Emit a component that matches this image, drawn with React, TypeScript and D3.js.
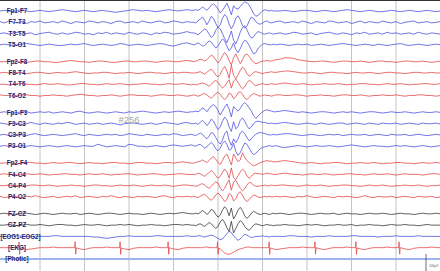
import React from 'react';
import * as d3 from 'd3';

const W = 440;
const H = 271;

// ---- labels ----
const channelNames = [
  'Fp1-F7', 'F7-T3', 'T3-T5', 'T5-O1',
  'Fp2-F8', 'F8-T4', 'T4-T6', 'T6-O2',
  'Fp1-F3', 'F3-C3', 'C3-P3', 'P3-O1',
  'Fp2-F4', 'F4-C4', 'C4-P4', 'P4-O2',
  'FZ-CZ', 'CZ-PZ', '[EOG1-EOG2]', '[EKG]', '[Photic]',
];
const channelKinds = [
  'L', 'L', 'L', 'L', 'R', 'R', 'R', 'R',
  'L', 'L', 'L', 'L', 'R', 'R', 'R', 'R',
  'Z', 'Z', 'L', 'R', 'P',
];
const gridSeconds = [1, 2, 3, 4, 5, 6, 7, 8, 9];
const watermark = '#256';
const scaleLabel = '100µV';

// ---- sample values (half-pixel units, up positive) ----
// three segments: 0.1–4.4 s (0.1 s), 4.45–6.30 s (0.05 s), 6.4–10.0 s (0.1 s)
const fp1f7 = [
  0, 1, 0, -1, 1, 2, 0, -1, 0, 1, 0,
  -1, 0, 1, 2, 1, 0, -1, 0, 1, 0, -1,
  0, 1, 0, -1, -2, -1, 0, 1, 2, 1, 0,
  1, 0, -1, 0, 1, 2, 1, 0, 1, 2, 1,
  1, 2, 1, 3, 6, 4, 1, 5, 9, 11,
  8, 3, -3, 1, 6, 12, 4, -6, 8, 4,
  3, 7, 11, 14, 13, 9, 3, -4, -8, -7,
  -3, 0, 2, 1, 0, 1, 0, 0,
  0, 1, 0, -1, 0, 1, 1, 0, -1, 0,
  1, 0, -1, 0, 1, 2, 1, 0, -1, 0,
  1, 0, -1, -1, 0, 1, 0, -1, 0, 1,
  0, -1, 0, 1, 0, -1, 0,
];
const f7t3 = [
  1, -1, 2, 0, -1, 1, -2, 1, 0, 2, -1,
  0, 1, -1, 2, 0, -2, 1, 0, -1, 2, 1,
  -1, 1, 0, -2, 1, 2, -1, 0, 1, -1, 2,
  0, -1, 1, 2, -1, 0, 2, 1, -1, 1, 0,
  0, -1, 2, 5, 8, 3, -4, 2, 9, 6,
  -2, -8, -4, 6, 12, 8, -3, -10, -4, 6,
  10, 4, -5, -9, -6, 2, 8, 6, 1, -2,
  -3, -1, 1, 2, 0, -1, 0, 1,
  2, -1, 0, 1, -1, 2, 0, -2, 1, 0,
  -1, 2, 1, -1, 0, 1, -2, 0, 2, -1,
  1, 0, -1, 2, 0, -1, 1, -2, 0, 1,
  2, -1, 0, 1, -1, 0, 1,
];
const t3t5 = [
  0, 1, -1, 1, 2, -1, 0, 1, -2, 0, 1,
  2, 0, -1, 1, -1, 0, 2, 1, -1, 0, -2,
  1, 0, 2, -1, 1, 0, -1, 2, 0, -1, 1,
  0, -2, 1, 0, 2, 1, -1, 0, 1, 3, 1,
  1, 0, -2, 1, 4, 7, 5, -1, -6, -3,
  5, 10, 7, 0, -8, -14, -6, 4, -10, -16,
  -8, 2, 9, 12, 6, -2, -7, -5, 0, 3,
  2, 0, -1, 0, 1, 0, -1, 0,
  1, -1, 0, 2, 1, -1, 0, 1, -2, 0,
  1, 2, 0, -1, 1, 0, -2, 1, 0, 2,
  -1, 0, 1, -1, 2, 0, 1, -1, 0, 1,
  -1, 2, 0, -1, 1, 0, -1,
];
const t5o1 = [
  0, 1, 0, -1, 0, 1, 2, 1, 0, -1, 0,
  1, 0, -1, -1, 0, 1, 0, 1, 2, 0, -1,
  0, 1, 0, -1, 0, 2, 1, -1, 0, 1, 0,
  -1, 0, 1, 2, 1, -1, -2, 0, 2, 3, 1,
  0, 1, 3, 1, -2, -1, 3, 6, 4, -1,
  -5, -2, 4, 9, 6, -2, -9, -5, 3, -7,
  -12, -6, 2, 7, 5, -1, -8, -14, -12, -6,
  -2, 1, 2, 1, 0, 0, 1, 0,
  1, 0, -1, 0, 1, 0, 1, -1, 0, 1,
  0, -1, 0, 1, 2, 1, 0, -1, 0, 1,
  0, -1, 1, 0, -1, 0, 1, 2, 0, -1,
  0, 1, 0, -1, 0, 1, 0,
];
const fp2f8 = [
  0, 0, 1, 1, 0, -1, -1, 0, 1, 1, 0,
  0, -1, -1, 0, 1, 2, 1, 0, 0, -1, 0,
  1, 1, 0, -1, -1, 0, 1, 1, 0, 0, 1,
  1, 0, -1, 0, 1, 1, 0, 0, 1, 2, 1,
  0, 1, 2, 4, 3, 1, 3, 7, 10, 8,
  3, -2, 2, 9, 14, 10, 2, -5, 6, 12,
  4, -3, 3, 10, 12, 8, 3, -1, -3, -2,
  0, 1, 1, 2, 1, 1, 2, 3,
  4, 6, 6, 5, 3, 2, 1, 0, 0, 1,
  1, 0, -1, 0, 1, 1, 0, 0, 1, 0,
  -1, 0, 1, 1, 0, 0, -1, 0, 1, 1,
  0, 0, 1, 0, -1, 0, 1,
];
const f8t4 = [
  0, 1, 0, 0, 1, 0, -1, 0, 1, 1, 0,
  -1, 0, 1, 0, 0, 1, 2, 1, 0, -1, 0,
  0, 1, 1, 0, -1, 0, 0, 1, 0, -1, 0,
  1, 1, 0, 0, -1, 0, 1, 0, 1, 1, 0,
  0, 0, 1, 2, 0, -2, 1, 4, 6, 2,
  -3, -6, -2, 5, 10, 3, -8, 12, -4, -9,
  -3, 4, 9, 6, -1, -5, -3, 1, 2, 1,
  0, -1, 0, 1, 1, 2, 1, 1,
  2, 3, 3, 2, 1, 0, 0, 1, 0, -1,
  0, 1, 1, 0, 0, -1, 0, 1, 0, 0,
  1, 0, -1, 0, 1, 1, 0, 0, -1, 0,
  1, 1, 0, 0, 1, 0, 0,
];
const t4t6 = [
  0, 0, -1, 0, 1, 1, 0, 0, -1, 0, 1,
  0, 0, 1, 0, -1, -1, 0, 1, 1, 0, 0,
  -1, 0, 1, 0, 0, 1, 0, -1, 0, 0, 1,
  1, 0, 0, -1, 0, 1, 0, 0, 1, 0, -1,
  0, -1, 0, 1, 2, 1, -1, -3, 0, 4,
  6, 3, -2, -6, -3, 2, 7, -6, 5, 8,
  3, -3, -7, -4, 2, 6, 4, 0, -2, -1,
  0, 1, 0, -1, 0, 1, 0, 0,
  1, 2, 1, 0, 0, 1, 0, -1, 0, 0,
  1, 0, 0, 1, 0, -1, 0, 0, 1, 1,
  0, 0, -1, 0, 1, 0, 0, 1, 0, -1,
  0, 0, 1, 1, 0, 0, 1,
];
const t6o2 = [
  1, 0, 0, -1, 0, 1, 1, 0, 0, -1, 0,
  0, 1, 0, 0, -1, 0, 1, 2, 1, 0, 0,
  -1, 0, 0, 1, 0, -1, 0, 1, 1, 0, 0,
  0, -1, 0, 1, 1, 0, 0, 1, 0, -1, 0,
  1, 0, -1, 0, 2, 3, 1, -2, -4, -1,
  3, 5, 2, -3, -6, -3, 4, 2, -5, -2,
  4, 6, 2, -4, -6, -3, 1, 3, 2, 0,
  -1, 0, 1, 0, 0, -1, 0, 1,
  1, 0, 0, 1, 1, 0, -1, 0, 0, 1,
  0, 0, -1, 0, 1, 1, 0, 0, 1, 0,
  -1, 0, 0, 1, 0, 0, 1, 0, -1, 0,
  0, 1, 1, 0, 0, -1, 0,
];
const fp1f3 = [
  0, 1, 0, -1, 0, 1, 1, -1, 0, 1, 0,
  1, -1, 0, 1, 0, -1, 1, 2, 0, -1, 0,
  1, 0, -1, 0, 1, 0, -1, 1, 0, 1, 2,
  1, 0, -1, 0, 1, 0, 1, 2, 1, 0, 1,
  1, 2, 1, 3, 7, 5, 1, 6, 10, 12,
  9, 3, -4, 2, 8, 13, 5, -7, 9, 5,
  2, 6, 12, 15, 12, 7, 2, -5, -9, -6,
  -2, 1, 3, 4, 3, 2, 1, 1,
  2, 3, 2, 1, 0, 1, 0, -1, 0, 1,
  1, 0, -1, 0, 1, 0, 1, 0, -1, 0,
  1, 1, 0, -1, 0, 1, 0, 0, 1, 0,
  -1, 0, 1, 0, 0, 1, 0,
];
const f3c3 = [
  1, 0, -1, 1, 0, -1, 0, 2, 0, -1, 1,
  0, -1, 1, 0, 2, 1, -1, 0, 1, -1, 0,
  1, -1, 0, 1, 0, -2, 0, 1, 1, 0, -1,
  0, 1, -1, 0, 2, 1, 0, -1, 1, 2, 0,
  0, 1, -1, 2, 5, 2, -3, 1, 7, 4,
  -3, -9, -5, 4, 10, 6, -5, -12, 3, -8,
  -4, 5, 9, 4, -3, -8, -5, 0, 3, 4,
  3, 2, 2, 1, 0, 1, 0, 0,
  1, 2, 1, 0, -1, 0, 1, 0, -1, 1,
  0, -1, 0, 1, 1, -1, 0, 1, 0, -1,
  1, 0, -1, 1, 0, 0, 1, -1, 0, 1,
  0, -1, 1, 0, 0, 1, -1,
];
const c3p3 = [
  0, 1, -1, 0, 1, 0, -1, 1, 2, 0, -1,
  0, 1, 0, -1, 0, 1, 2, 0, -1, 1, 0,
  -1, 0, 1, 0, 1, -1, 0, 2, 1, 0, -1,
  1, 0, -1, 0, 1, 0, 2, 1, -1, 0, 1,
  0, -1, 1, 3, 1, -3, -6, -2, 4, 2,
  -4, -10, -14, -8, 2, 6, -8, -16, -6, -12,
  -6, 3, 6, 2, -4, -9, -6, -2, 1, 3,
  4, 3, 2, 1, 0, 0, 1, 0,
  1, 2, 2, 1, 0, -1, 0, 1, 0, -1,
  0, 1, 0, 1, -1, 0, 1, 0, 0, 1,
  -1, 0, 1, 0, -1, 1, 0, 0, 1, -1,
  0, 1, 0, -1, 0, 1, 0,
];
const p3o1 = [
  0, 1, 0, -1, 0, 1, 0, 1, 0, -1, 0,
  1, 0, -1, 0, 1, 0, -1, 0, 1, 0, 0,
  3, 1, -1, 0, 1, 0, -1, 3, 2, 0, 0,
  -1, 0, 1, 0, -1, 1, 2, 1, 0, 1, 2,
  1, 0, 2, 3, 0, -3, -1, 3, 6, 2,
  -4, -7, -3, 4, 8, 3, -6, -4, 5, -8,
  -14, -10, -2, 5, 3, -3, -9, -13, -11, -7,
  -4, -2, -1, 0, 1, 0, 0, 1,
  -1, -2, -1, 0, 1, 0, -1, 0, 1, 0,
  0, 1, 0, -1, 0, 1, 2, 1, 0, -1,
  0, 1, 0, 0, -1, 0, 1, 0, 1, 0,
  -1, 0, 1, 0, -1, 0, 1,
];
const fp2f4 = [
  0, 0, 1, 0, -1, 0, 1, 1, 0, 0, -1,
  0, 1, 0, 0, 1, 1, 0, -1, 0, 1, 0,
  0, -1, 0, 1, 1, 0, 0, -1, 0, 1, 1,
  0, 0, -1, 0, 1, 1, 0, 1, 2, 1, 0,
  0, 1, 2, 3, 5, 3, 1, 4, 8, 10,
  6, 1, -2, 4, 11, 14, 6, -3, 14, 8,
  2, 5, 16, 9, 4, 1, -2, -4, -3, -1,
  1, 2, 3, 4, 3, 3, 2, 2,
  3, 4, 3, 2, 1, 0, 0, 1, 0, -1,
  0, 0, 1, 1, 0, -1, 0, 0, 1, 0,
  0, 1, 0, -1, 0, 0, 1, 1, 0, 0,
  -1, 0, 1, 0, 0, 1, 0,
];
const f4c4 = [
  0, 1, 0, 0, -1, 0, 1, 0, 0, 1, 0,
  -1, 0, 0, 1, 1, 0, 0, -1, 0, 1, 0,
  0, 1, 0, -1, 0, 0, 1, 1, 0, -1, 0,
  0, 1, 1, 0, -1, 0, 0, 1, 1, 0, 0,
  0, 0, 2, 1, -1, -3, 0, 3, 6, 3,
  -2, -6, -3, 3, 8, 4, -6, 10, -5, -8,
  -2, 4, 8, 5, -2, -6, -3, 1, 2, 1,
  1, 0, 1, 2, 1, 1, 0, 0,
  1, 2, 1, 0, 0, -1, 0, 1, 0, 0,
  1, 0, -1, 0, 0, 1, 1, 0, 0, -1,
  0, 1, 0, 0, 1, 0, -1, 0, 1, 0,
  0, 0, -1, 0, 1, 1, 0,
];
const c4p4 = [
  0, 0, 1, 0, 0, -1, 0, 1, 1, 0, 0,
  1, 0, -1, 0, 0, 1, 0, 0, -1, 0, 1,
  1, 0, 0, -1, 0, 1, 0, 0, 1, 0, -1,
  0, 1, 0, 0, 1, 0, -1, 0, 1, 1, 0,
  0, -1, 0, 2, 3, 1, -2, -4, -1, 3,
  6, 4, -3, -8, -4, 3, 9, -7, 6, 8,
  2, -4, -8, -5, 1, 5, 4, 1, -1, -1,
  0, 0, 1, 0, 0, 1, 0, 0,
  1, 1, 0, 0, -1, 0, 1, 0, 0, 1,
  0, -1, 0, 0, 1, 1, 0, 0, -1, 0,
  1, 0, 0, 1, 0, -1, 0, 0, 1, 0,
  0, 1, 0, -1, 0, 0, 1,
];
const p4o2 = [
  1, -1, 0, 1, 0, -1, 1, 0, 2, 0, -1,
  0, 1, -1, 0, 1, 0, 2, -1, 0, 1, 0,
  -1, 1, 0, 2, 0, -1, 1, 0, -1, 1, 0,
  1, 0, -1, 1, 2, 0, -1, 1, 0, 1, 0,
  1, 0, -1, 1, 3, 4, 1, -3, -5, -2,
  3, 6, 3, -2, -7, -4, 5, 3, -6, -3,
  5, 8, 3, -4, -7, -4, 0, 3, 2, 0,
  -1, 0, 1, 0, 1, 0, 0, 1,
  0, 1, 0, -1, 1, 0, 2, 0, -1, 0,
  1, 0, -1, 1, 0, 1, 0, -1, 0, 2,
  0, -1, 1, 0, 0, 1, -1, 0, 1, 0,
  -1, 1, 0, 0, 1, -1, 0,
];
const fzcz = [
  0, 1, 0, -1, 0, 1, 1, 0, -1, 0, 1,
  0, -1, 0, 1, 0, 0, 1, -1, 0, 1, 0,
  -1, 0, 1, 1, 0, -1, 0, 1, 0, 0, -1,
  0, 1, 0, -1, 0, 1, 0, 1, 2, 1, 0,
  0, 1, 0, 2, 5, 3, -1, 2, 7, 5,
  -1, -5, -2, 6, 11, 7, -3, 9, -8, -2,
  6, 10, 5, -3, -7, -4, 1, 4, 2, 0,
  -1, 0, 1, 0, -1, 0, 1, 0,
  1, 0, -1, 0, 1, 1, 0, -1, 0, 1,
  0, 0, 1, -1, 0, 1, 0, 0, -1, 0,
  1, 0, 0, 1, 0, -1, 0, 1, 0, 0,
  -1, 0, 1, 0, 0, 1, 0,
];
const czpz = [
  0, 0, 1, 0, -1, 0, 1, 0, 0, 1, 0,
  -1, 0, 1, 1, 0, 0, -1, 0, 1, 0, 0,
  1, 0, -1, 0, 0, 1, 0, 1, 0, -1, 0,
  0, 1, 0, 0, -1, 0, 1, 1, 0, 1, 0,
  0, -1, 1, 2, 0, -2, 1, 4, 2, -2,
  -5, -2, 5, 9, 4, -4, -10, 6, -12, -5,
  2, 7, 4, -2, -6, -8, -4, 0, 2, 1,
  0, -1, 0, 1, 0, 0, -1, 0,
  0, 1, 0, 0, -1, 0, 1, 0, 1, 0,
  -1, 0, 0, 1, 0, 0, 1, -1, 0, 0,
  1, 0, 0, -1, 0, 1, 0, 0, 1, 0,
  0, -1, 0, 1, 0, 0, 0,
];
const eog = [
  0, 0, 0, 1, 1, 0, 0, 0, -1, 0, 0,
  0, 1, 1, 0, 0, 0, 0, 0, 0, 0, -1,
  -1, -2, -3, -2, -1, 0, 0, 1, 0, 0, 0,
  0, 0, 1, 1, 0, 0, 0, 0, 0, 1, 0,
  0, 0, 1, 1, 0, -1, 0, 1, 2, 1,
  -1, -3, -5, -4, 0, 4, 8, 6, 1, -3,
  -6, -4, 0, 3, 2, 0, -2, -1, 0, 0,
  0, 1, 0, 0, -1, 0, 0, 0,
  0, 0, 1, 1, 0, 0, 0, -1, 0, 0,
  0, 1, 0, 0, 0, 0, 1, 1, 0, 0,
  0, 0, -1, 0, 0, 0, 1, 0, 0, 0,
  0, 1, 0, 0, 0, 0, 0,
];
const ekg = [
  0, 0, 0, 0, 0, -1, -3, -2, -1, 0, 0,
  0, 1, 0, 0, 0, 0, 0, -2, -3, -1, 0,
  0, 0, 1, 0, 0, 0, -2, -3, -1, 0, 0,
  0, 0, 1, 0, 0, 0, -2, -3, -1, 0, 0,
  0, 0, 0, 0, 0, 1, 1, 0, 0, 0,
  0, 0, -2, -5, -8, -10, -10, -9, -7, -5,
  -3, -2, -1, 0, 1, 1, 0, 0, 0, 0,
  0, 0, 0, 0, 0, -1, -2, -3,
  -2, -1, 0, 0, 0, 1, 0, 0, 0, -2,
  -3, -1, 0, 0, 0, 1, 0, 0, -2, -3,
  -1, 0, 0, 0, 1, 0, 0, 0, -2, -3,
  -1, 0, 0, 0, 1, 0, 0,
];
const ekgBeats = [0.53, 1.79, 2.8, 3.88, 4.99, 6.15, 7.18, 8.1, 9.07];
const qrsOffsets = [-0.012, 0, 0.012, 0.025];
const qrsValues = [0, 9, -10, 0];

const channelData = [
  fp1f7, f7t3, t3t5, t5o1,
  fp2f8, f8t4, t4t6, t6o2,
  fp1f3, f3c3, c3p3, p3o1,
  fp2f4, f4c4, c4p4, p4o2,
  fzcz, czpz, eog, ekg,
];

const sampleTimes = [
  ...d3.range(0.1, 4.41, 0.1),
  ...d3.range(4.45, 6.31, 0.05),
  ...d3.range(6.4, 10.01, 0.1),
];

const colors: Record<string, string> = {
  L: '#5050e2',
  R: '#e44848',
  Z: '#3a3a3a',
  P: '#9db4ee',
};

export default function App() {
  const x = d3.scaleLinear().domain([0, 10]).range([-4.5, 440.5]);
  const slotY = d3.scaleLinear().domain([0, 21.5]).range([11, 253.3]);
  const amp = d3.scaleLinear().domain([-20, 20]).range([13, -13]);

  // slot index per channel with half-slot gaps between groups
  const slots: number[] = [];
  let s = 0;
  channelNames.forEach((_, i) => {
    if (i === 4 || i === 8 || i === 12 || i === 16) s += 0.5;
    slots.push(s);
    s += 1;
  });

  const paths = channelData.map((vals, ci) => {
    const n = Math.min(vals.length, sampleTimes.length);
    let pts: [number, number][] = [];
    for (let i = 0; i < n; i++) pts.push([sampleTimes[i], vals[i]]);
    if (ci === 19) {
      const base = d3.scaleLinear().domain(sampleTimes.slice(0, n)).range(vals.slice(0, n)).clamp(true);
      ekgBeats.forEach((b) => {
        const lo = b + qrsOffsets[0];
        const hi = b + qrsOffsets[qrsOffsets.length - 1];
        pts = pts.filter((p) => p[0] < lo || p[0] > hi);
        qrsOffsets.forEach((o, k) => pts.push([b + o, base(b + o) + qrsValues[k]]));
      });
      pts.sort((a, b) => a[0] - b[0]);
    }
    const y0 = slotY(slots[ci]);
    const line = d3
      .line<[number, number]>()
      .x((d) => x(d[0]))
      .y((d) => y0 + amp(d[1]));
    return { d: line(pts) || '', color: colors[channelKinds[ci]] };
  });

  const photicY = slotY(slots[20]);

  return (
    <svg
      width={W}
      height={H}
      style={{ position: 'absolute', left: 0, top: 0, background: '#fff' }}
      fontFamily="'Liberation Sans', Arial, sans-serif"
    >
      <rect x={0} y={0} width={W} height={H} fill="#ffffff" />
      {gridSeconds.map((g) => (
        <line key={g} x1={x(g)} x2={x(g)} y1={0} y2={H} stroke="#c4c4c4" strokeWidth={1} />
      ))}
      <line x1={0} x2={W} y1={0.5} y2={0.5} stroke="#333" strokeWidth={1} />
      {paths.map((p, i) => (
        <path key={i} d={p.d} fill="none" stroke={p.color} strokeWidth={0.8} strokeLinejoin="round" />
      ))}
      <line x1={x(0.1)} x2={x(10)} y1={photicY} y2={photicY} stroke={colors.P} strokeWidth={2} />
      {channelNames.map((name, i) =>
        name.length > 8 ? (
          <text
            key={name}
            x={0.5}
            y={slotY(slots[i]) + 2.2}
            fontSize={6.3}
            fontWeight="bold"
            fill="#1f2266"
            textLength={40}
            lengthAdjust="spacingAndGlyphs"
          >
            {name}
          </text>
        ) : (
          <text
            key={name}
            x={17}
            y={slotY(slots[i]) + 2.2}
            textAnchor="middle"
            fontSize={6.3}
            fontWeight="bold"
            fill="#1f2266"
          >
            {name}
          </text>
        ),
      )}
      <text x={129} y={122.5} textAnchor="middle" fontSize={9.5} fill="#a6a6a6">
        {watermark}
      </text>
      <line x1={426} x2={426} y1={254} y2={H} stroke="#444" strokeWidth={0.8} />
      <text x={429} y={267} fontSize={3.2} fill="#555">
        {scaleLabel}
      </text>
    </svg>
  );
}
